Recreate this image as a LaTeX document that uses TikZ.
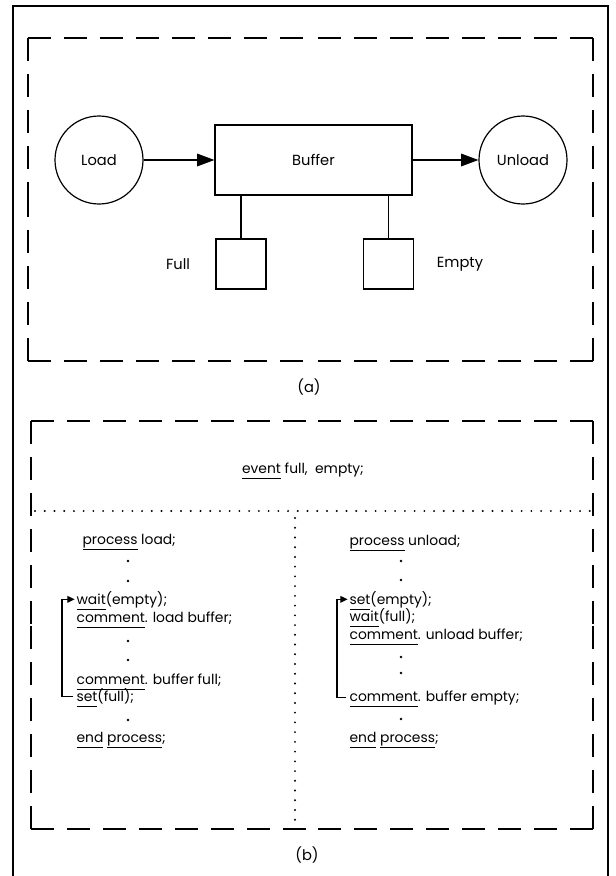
\documentclass[tikz,border=0pt]{standalone}
\usepackage{fontspec}
\setmainfont{Poppins}
\usetikzlibrary{arrows.meta,calc}
\newcommand\kw[1]{\underline{#1\vphantom{p}}}
\begin{document}
\begin{tikzpicture}[x=0.75pt,y=-0.75pt, line width=0.9pt,
  dashline/.style={line width=1.15pt, dash pattern=on 17pt off 10pt},
  dotline/.style={line width=1.6pt, dash pattern=on 0pt off 7.3pt, line cap=round},
  code/.style={anchor=base west, inner sep=0pt, font=\fontsize{10.4}{12}\selectfont},
  lbl/.style={font=\fontsize{11}{13}\selectfont, inner sep=0pt},
  cdot/.style={circle, fill, inner sep=0pt, minimum size=1.9pt},
  flow/.style={-{Triangle[length=13pt,width=9.5pt]}},
  loop/.style={-{Triangle[length=5.5pt,width=5pt]}, line width=0.95pt}]
\useasboundingbox (0,0) rectangle (616,876);
\fill[white] (0,0) rectangle (616,876);
% outer frame
\draw[line width=1.3pt] (13,876) -- (13,6) -- (608,6) -- (608,876);
% dashed box (a)
\coordinate (a1) at (28,38); \coordinate (a2) at (593,38);
\coordinate (a3) at (593,361); \coordinate (a4) at (28,361);
\foreach \p/\q in {a1/a2,a2/a3,a3/a4,a4/a1}{
  \draw[dashline] (\p) -- ($(\p)!0.5!(\q)$);
  \draw[dashline] (\q) -- ($(\p)!0.5!(\q)$);
}
% diagram (a)
\node[draw, circle, minimum size=66pt, inner sep=0pt, lbl] (load) at (99,160) {Load};
\node[draw, rectangle, minimum width=147.75pt, minimum height=52.5pt, lbl] (buffer) at (313.5,160) {Buffer};
\node[draw, circle, minimum size=66pt, inner sep=0pt, lbl] (unload) at (523,160) {Unload};
\node[draw, rectangle, minimum size=37.5pt] (fullbox) at (241,264) {};
\node[draw, rectangle, minimum size=37.5pt] (emptybox) at (388.5,264) {};
\node[lbl] (fulllbl) at (178,264) {Full};
\node[lbl] (emptylbl) at (460,264) {Empty};
\draw[flow] (load) -- (buffer);
\draw[flow] (buffer) -- (unload);
\draw (fullbox.north) -- (fullbox.north |- buffer.south);
\draw (emptybox.north) -- (emptybox.north |- buffer.south);
\node[lbl] (capa) at (309,387) {(a)};
% dashed box (b)
\coordinate (b1) at (31,421); \coordinate (b2) at (593,421);
\coordinate (b3) at (593,829); \coordinate (b4) at (31,829);
\foreach \p/\q in {b1/b2,b2/b3,b3/b4,b4/b1}{
  \draw[dashline] (\p) -- ($(\p)!0.5!(\q)$);
  \draw[dashline] (\q) -- ($(\p)!0.5!(\q)$);
}
\node[code, anchor=base] (event) at (303,473) {\kw{event} full,\ \ empty;};
\coordinate (hl) at (35,511); \coordinate (hr) at (590,511);
\draw[dotline] (hl) -- (hr);
\coordinate (vt) at (295,518); \coordinate (vb) at (295,822);
\draw[dotline] (vt) -- (vb);
% left column
\node[code] (pload) at (82,544) {\kw{process} load;};
\node[cdot] (ld1) at (128,561) {};
\node[cdot] (ld2) at (128,581) {};
\node[code] (waite) at (76,604) {\kw{wait}(empty);};
\node[code] (cload) at (76,622) {\kw{comment}. load buffer;};
\node[cdot] (ld3) at (128,641) {};
\node[cdot] (ld4) at (128,660) {};
\node[code] (cfull) at (76,684) {\kw{comment}. buffer full;};
\node[code] (setf) at (76,701) {\kw{set}(full);};
\node[cdot] (ld5) at (128,720) {};
\node[code] (endl) at (76,742) {\kw{end} \kw{process};};
\coordinate (lx) at (62,0);
\draw[loop] ([xshift=-2pt,yshift=1pt]setf.west) -- ([yshift=1pt]setf.west -| lx) -- ([yshift=1pt]waite.west -| lx) -- ([xshift=-1pt,yshift=1pt]waite.west);
% right column
\node[code] (punload) at (349,545) {\kw{process} unload;};
\node[cdot] (rd1) at (401,561) {};
\node[cdot] (rd2) at (401,580) {};
\node[code] (sete) at (349,604) {\kw{set}(empty);};
\node[code] (waitf) at (349,621) {\kw{wait}(full);};
\node[code] (cunload) at (349,639) {\kw{comment}. unload buffer;};
\node[cdot] (rd3) at (401,657) {};
\node[cdot] (rd4) at (401,673) {};
\node[code] (cempty) at (349,701) {\kw{comment}. buffer empty;};
\node[cdot] (rd5) at (401,719) {};
\node[code] (endr) at (349,742) {\kw{end} \kw{process};};
\coordinate (rx) at (337,0);
\draw[loop] ([xshift=-2pt,yshift=1pt]cempty.west) -- ([yshift=1pt]cempty.west -| rx) -- ([yshift=1pt]sete.west -| rx) -- ([xshift=-1pt,yshift=1pt]sete.west);
\node[lbl] (capb) at (307,855) {(b)};
\end{tikzpicture}
\end{document}
